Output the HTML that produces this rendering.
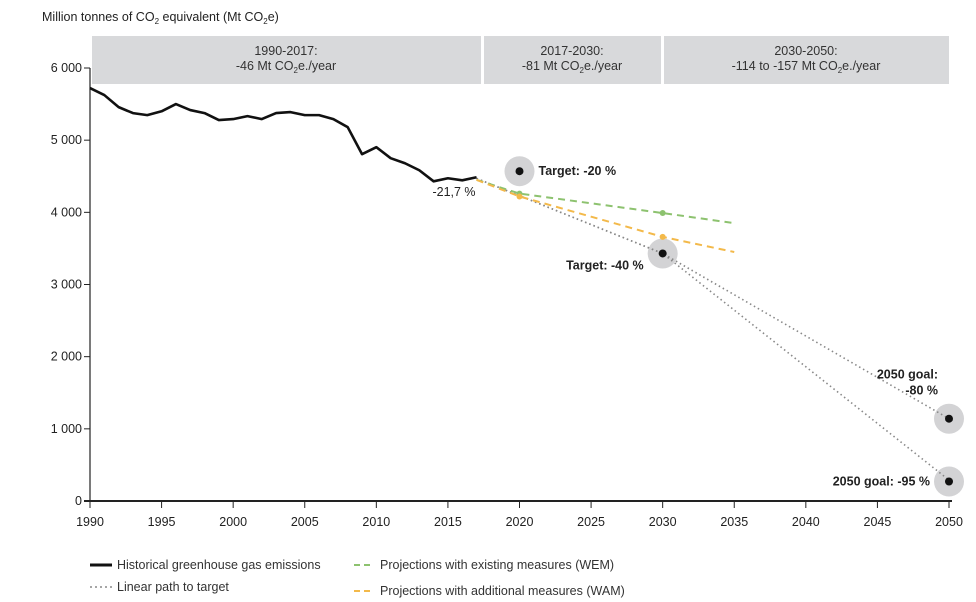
<!DOCTYPE html>
<html><head><meta charset="utf-8"><style>
body{margin:0;background:#fff;}
svg{display:block;font-family:"Liberation Sans",sans-serif;}
</style></head><body>
<svg id="chart" width="976" height="602" viewBox="0 0 976 602">
<text x="42" y="21" font-size="12.5" fill="#222">Million tonnes of CO<tspan font-size="8" dy="3">2</tspan><tspan dy="-3"> equivalent (Mt CO</tspan><tspan font-size="8" dy="3">2</tspan><tspan dy="-3">e)</tspan></text>
<g>
<rect x="92" y="36" width="389" height="48" fill="#d8d9db"/>
<rect x="484" y="36" width="177" height="48" fill="#d8d9db"/>
<rect x="664" y="36" width="285" height="48" fill="#d8d9db"/>
<g font-size="12.5" fill="#333" text-anchor="middle">
<text x="286" y="55">1990-2017:</text>
<text x="286" y="70">-46 Mt CO<tspan font-size="8" dy="3">2</tspan><tspan dy="-3">e./year</tspan></text>
<text x="572" y="55">2017-2030:</text>
<text x="572" y="70">-81 Mt CO<tspan font-size="8" dy="3">2</tspan><tspan dy="-3">e./year</tspan></text>
<text x="806" y="55">2030-2050:</text>
<text x="806" y="70">-114 to -157 Mt CO<tspan font-size="8" dy="3">2</tspan><tspan dy="-3">e./year</tspan></text>
</g></g>
<g id="axes"></g>
<g id="marks"></g>
<g font-size="12.5" fill="#333">
<line x1="90" y1="565" x2="112" y2="565" stroke="#111" stroke-width="3"/>
<text x="117" y="569">Historical greenhouse gas emissions</text>
<line x1="90" y1="587" x2="112" y2="587" stroke="#888" stroke-width="1.5" stroke-dasharray="2,3"/>
<text x="117" y="591">Linear path to target</text>
<line x1="354" y1="565" x2="374" y2="565" stroke="#8dc26f" stroke-width="2" stroke-dasharray="6,4"/>
<text x="380" y="569">Projections with existing measures (WEM)</text>
<line x1="354" y1="591" x2="374" y2="591" stroke="#f3b94a" stroke-width="2" stroke-dasharray="6,4"/>
<text x="380" y="595">Projections with additional measures (WAM)</text>
</g>
</svg>
<script>
const histYears=[1990,1991,1992,1993,1994,1995,1996,1997,1998,1999,2000,2001,2002,2003,2004,2005,2006,2007,2008,2009,2010,2011,2012,2013,2014,2015,2016,2017];
const histValues=[5722,5625,5458,5375,5347,5400,5500,5417,5375,5278,5292,5333,5292,5375,5389,5347,5347,5292,5180,4806,4903,4750,4680,4583,4430,4472,4444,4486];
const wemYears=[2017,2020,2030,2035];
const wemValues=[4450,4260,3990,3850];
const wamYears=[2017,2020,2030,2035];
const wamValues=[4450,4220,3660,3450];
const pathYears=[2017,2030,2050];
const pathValuesA=[4470,3430,1140];
const pathValuesB=[4470,3430,290];
const targetYears=[2020,2030,2050,2050];
const targetValues=[4570,3430,1140,270];
const yTicks=[0,1000,2000,3000,4000,5000,6000];
const yTickLabels=["0","1 000","2 000","3 000","4 000","5 000","6 000"];
const xTicks=[1990,1995,2000,2005,2010,2015,2020,2025,2030,2035,2040,2045,2050];
const NS="http://www.w3.org/2000/svg";
const X=y=>90+(y-1990)*(949-90)/60;
const Y=v=>501-v*(501-68)/6000;
function mk(tag,attrs,parent){const e=document.createElementNS(NS,tag);for(const k in attrs)e.setAttribute(k,attrs[k]);parent.appendChild(e);return e;}
const axes=document.getElementById('axes'),marks=document.getElementById('marks');
let a=mk('line',{x1:90,y1:68,x2:90,y2:501,stroke:'#222','stroke-width':1.2},axes);


a=mk('line',{x1:84,y1:501,x2:952,y2:501,stroke:'#222','stroke-width':2},axes);


yTicks.forEach((t,i)=>{mk('line',{x1:84,y1:Y(t),x2:90,y2:Y(t),stroke:'#222'},axes);
const tx=mk('text',{x:82,y:Y(t)+4,'text-anchor':'end','font-size':12.5,fill:'#222'},axes);tx.textContent=yTickLabels[i];

});
xTicks.forEach(t=>{mk('line',{x1:X(t),y1:501,x2:X(t),y2:508,stroke:'#222'},axes);
const tx=mk('text',{x:X(t),y:526,'text-anchor':'middle','font-size':12.5,fill:'#222'},axes);tx.textContent=t;

});
const pts=(xs,vs)=>xs.map((y,i)=>X(y)+','+Y(vs[i])).join(' ');
// target circles
targetYears.forEach((y,i)=>{const c=mk('circle',{cx:X(y),cy:Y(targetValues[i]),r:15,fill:'#d3d3d5'},marks);

});
let p=mk('polyline',{points:pts(pathYears,pathValuesA),fill:'none',stroke:'#888','stroke-width':1.6,'stroke-dasharray':'1.5,3'},marks);


p=mk('polyline',{points:pts(pathYears,pathValuesB),fill:'none',stroke:'#888','stroke-width':1.6,'stroke-dasharray':'1.5,3'},marks);


p=mk('polyline',{points:pts(wemYears,wemValues),fill:'none',stroke:'#8dc26f','stroke-width':2,'stroke-dasharray':'7,5'},marks);


p=mk('polyline',{points:pts(wamYears,wamValues),fill:'none',stroke:'#f3b94a','stroke-width':2,'stroke-dasharray':'7,5'},marks);


[[wemYears,wemValues,'#8dc26f'],[wamYears,wamValues,'#f3b94a']].forEach(([ys,vs,c])=>{[1,2].forEach(i=>{const d=mk('circle',{cx:X(ys[i]),cy:Y(vs[i]),r:3,fill:c},marks);

});});
p=mk('polyline',{points:pts(histYears,histValues),fill:'none',stroke:'#111','stroke-width':2.6,'stroke-linejoin':'round'},marks);


targetYears.forEach((y,i)=>{const c=mk('circle',{cx:X(y),cy:Y(targetValues[i]),r:4,fill:'#111'},marks);

});
const labels=[[X(2020)+19,Y(targetValues[0])+4,'Target: -20 %','start','bold'],[X(2030)-19,Y(targetValues[1])+16,'Target: -40 %','end','bold'],[938,Y(targetValues[2])-40,'2050 goal:','end','bold'],[938,Y(targetValues[2])-24,'-80 %','end','bold'],[X(2050)-19,Y(targetValues[3])+4,'2050 goal: -95 %','end','bold'],[454,196,'-21,7 %','middle','normal']];
labels.forEach(([x,y,t,an,w])=>{const tx=mk('text',{x:x,y:y,'text-anchor':an,'font-size':12.5,'font-weight':w,fill:'#222'},marks);tx.textContent=t;

});
</script>
</body></html>
